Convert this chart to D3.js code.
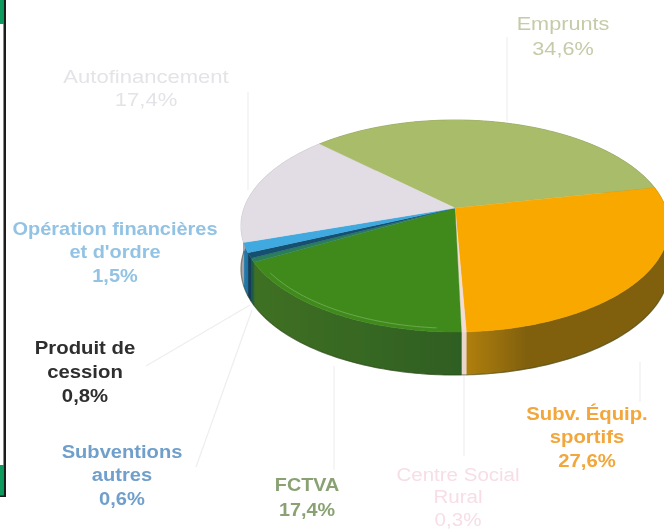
<!DOCTYPE html>
<html><head><meta charset="utf-8">
<script src="https://cdn.jsdelivr.net/npm/d3@7"></script>
<style>html,body{margin:0;padding:0;background:#fff;overflow:hidden}svg{display:block}</style>
</head><body><svg id="c" width="664" height="529"></svg>
<script>
const categories=["Emprunts","Subv. Équip. sportifs","Centre Social Rural","FCTVA","Subventions autres","Produit de cession","Opération financières et d'ordre","Autofinancement"];
const values=[34.6,27.6,0.3,17.4,0.6,0.8,1.5,17.4];
const topColors=["#a9bc69","#f9a806","#f3dcd6","#3f8a1e","#2a7f5a","#17506f","#3fa9e0","#e2dde4"];
const sideStart=["#7f8c4c","#b07f0a","#e8d5cc","#3f7022","#1c5a44","#123d55","#2a7fae","#a8a4aa"];
const sideEnd=["#6f7c42","#80600f","#e8d5cc","#2f5f20","#1c5a44","#123d55","#1d6f9e","#a8a4aa"];
const labelLines=[["Emprunts","34,6%"],["Subv. Équip.","sportifs","27,6%"],["Centre Social","Rural","0,3%"],["FCTVA","17,4%"],["Subventions","autres","0,6%"],["Produit de","cession","0,8%"],["Opération financières","et d'ordre","1,5%"],["Autofinancement","17,4%"]];
const labelX=[563,587,458,307,122,85,115,146];
const labelY=[30,420,481,491,458,354,235,83];
const labelStep=[25,23.5,22.5,25,23.5,24,23.5,23];
const labelStretch=[1.14,1.07,1.08,1.04,1.06,1.07,1.05,1.16];
const labelColors=["#c6caa8","#f2a63a","#f7dee5","#8aa273","#6f9fcb","#2e2e2e","#93c3e4","#e4e4e8"];
const labelBold=[false,true,false,true,true,true,true,false];
const leaders=[[[507,37],[507,121]],[[640,362],[640,402]],[[464,375],[464,456]],[[334,366],[334,470]],[[252,310],[196,467]],[[250,305],[146,366]],null,[[248,92],[248,190]]];

const W=664,H=529,cx=455,cy=226,rx=214,ry=106,depth=43,apexY=208,startDeg=-46;
const svg=d3.select("#c");
const k=(apexY-cy)/ry, s=Math.sqrt(1-k*k);
const yScale=d3.scaleLinear().domain([-1,1]).range([cy-ry,cy+ry]);
const xScale=d3.scaleLinear().domain([-1,1]).range([cx-rx,cx+rx]);
const pie=d3.pie().sort(null).startAngle(startDeg*Math.PI/180).endAngle((startDeg+360)*Math.PI/180)(values);
function proj(a,r=1){const u=r*Math.sin(a),v=-r*Math.cos(a),w=1+k*v;return [xScale(u*s/w),yScale((v+k)/w)];}
const line=d3.line();
const arcPts=(a0,a1,r=1)=>{const n=Math.max(2,Math.ceil((a1-a0)*60));return d3.range(n+1).map(i=>proj(a0+(a1-a0)*i/n,r));};
const defs=svg.append("defs");
defs.append("filter").attr("id","soft").attr("x","-10%").attr("width","120%").append("feGaussianBlur").attr("stdDeviation",0.6);
defs.append("filter").attr("id","edge").append("feGaussianBlur").attr("stdDeviation",0.45);
const g=svg.append("g");
// left frame
const fr=svg.append("g").attr("filter","url(#edge)");
fr.append("rect").attr("x",0).attr("y",0).attr("width",3.5).attr("height",24).attr("fill","#0a9a5c");
fr.append("rect").attr("x",0).attr("y",465).attr("width",3.5).attr("height",31).attr("fill","#0a9a5c");
fr.append("rect").attr("x",3.5).attr("y",0).attr("width",2.5).attr("height",497).attr("fill","#1c1c1c");
fr.append("rect").attr("x",0).attr("y",495.5).attr("width",6).attr("height",1.5).attr("fill","#1c1c1c");
// leaders
g.selectAll("path.leader").data(leaders.filter(d=>d)).join("path").attr("class","leader")
 .attr("d",d=>line(d)).attr("fill","none").attr("stroke","#eeeeee").attr("stroke-width",1.2);
// side
const pg=g.append("g").attr("filter","url(#edge)");
pie.forEach((d,i)=>{
  const top=arcPts(d.startAngle,d.endAngle);
  const x0=d3.extent(top,p=>p[0]);
  const id="sg"+i;
  const gr=defs.append("linearGradient").attr("id",id).attr("gradientUnits","userSpaceOnUse")
    .attr("x1",x0[0]).attr("x2",x0[1]).attr("y1",0).attr("y2",0);
  gr.append("stop").attr("offset",0).attr("stop-color",sideStart[i]);
  gr.append("stop").attr("offset",i==1?0.3:1).attr("stop-color",sideEnd[i]);
  const bot=top.map(p=>[p[0],p[1]+depth]).reverse();
  pg.append("path").attr("d",line(top.concat(bot))+"Z").attr("fill",`url(#${id})`).attr("stroke",`url(#${id})`).attr("stroke-width",0.5);
});
// dark lower rim
const lo=arcPts(Math.PI*0.5,Math.PI*1.5).map(p=>[p[0],p[1]+depth]);
pg.append("path").attr("d",line(lo)).attr("fill","none").attr("stroke","#2a3a18").attr("stroke-opacity",0.45).attr("stroke-width",1.2);
// top
pie.forEach((d,i)=>{
  pg.append("path").attr("d",line([[cx,apexY]].concat(arcPts(d.startAngle,d.endAngle)))+"Z").attr("fill",topColors[i]).attr("stroke",topColors[i]).attr("stroke-width",i==2?0.7:0.4);
});
// rim highlight on green face
const gd=pie[3];
pg.append("path").attr("d",line(arcPts(gd.startAngle+0.1,gd.endAngle-0.12,0.975))).attr("fill","none").attr("stroke","#7db35e").attr("stroke-width",1).attr("stroke-opacity",0.7);
// labels
const lg=svg.append("g").attr("filter","url(#soft)");
labelLines.forEach((ls,i)=>{
  const t=lg.append("text").attr("text-anchor","middle").attr("font-family","'Liberation Sans',Arial,sans-serif")
    .attr("transform",`translate(${labelX[i]},0) scale(${labelStretch[i]},1)`)
    .attr("font-size",19).attr("font-weight",labelBold[i]?"700":"400").attr("fill",labelColors[i]);
  ls.forEach((l,j)=>t.append("tspan").attr("x",0).attr("y",labelY[i]+j*labelStep[i]).text(l));
});
</script></body></html>
